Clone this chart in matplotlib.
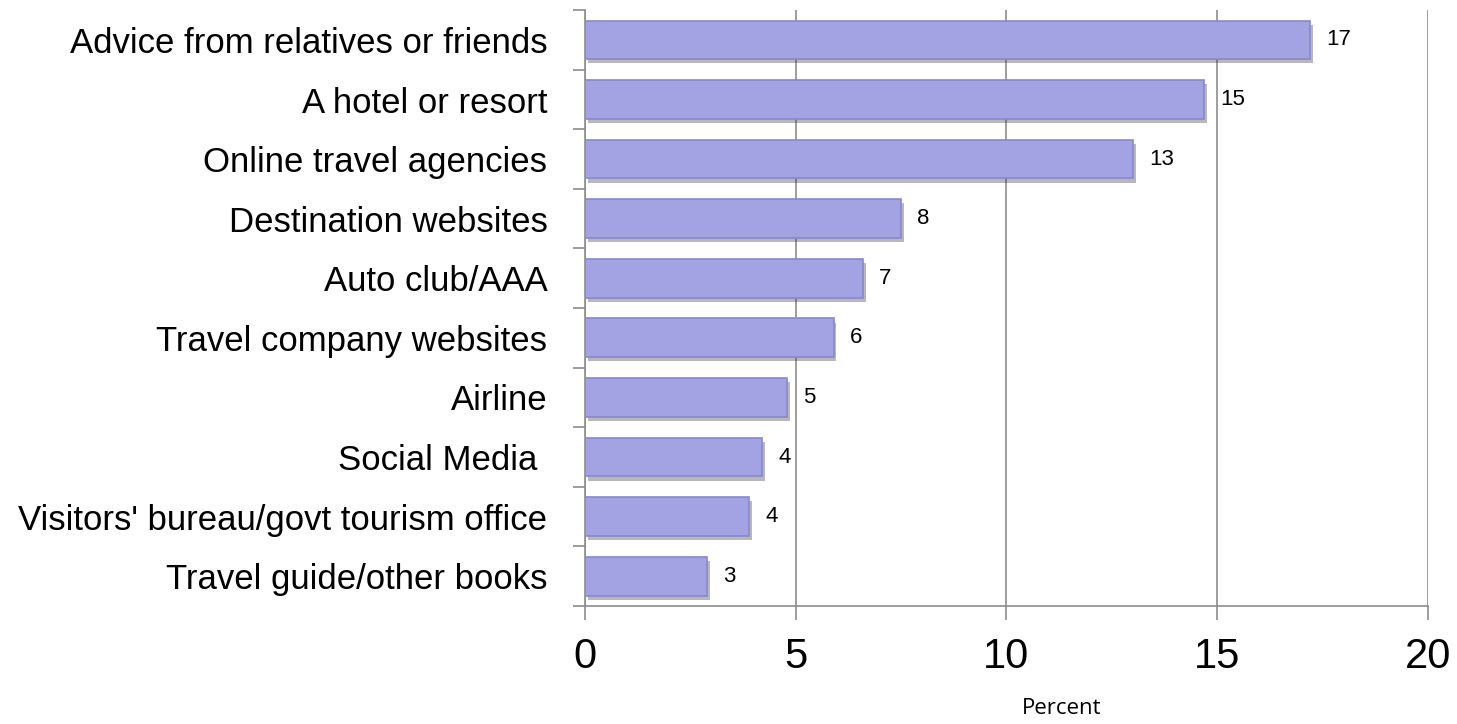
import matplotlib.pyplot as plt
import matplotlib.patheffects as pe
import numpy as np

# Data (bar lengths + printed integer labels)
categories = [
    'Advice from relatives or friends',
    'A hotel or resort',
    'Online travel agencies',
    'Destination websites',
    'Auto club/AAA',
    'Travel company websites',
    'Airline',
    'Social Media ',
    "Visitors' bureau/govt tourism office",
    'Travel guide/other books',
]
values = [17.2, 14.7, 13.0, 7.5, 6.6, 5.9, 4.8, 4.2, 3.9, 2.9]
value_labels = ['17', '15', '13', '8', '7', '6', '5', '4', '4', '3']
x_ticks = [0, 5, 10, 15, 20]

plt.rcParams['font.family'] = ['Liberation Sans', 'DejaVu Sans']

fig = plt.figure(figsize=(14.57, 7.24), dpi=100)
ax = fig.add_axes([0.4015, 0.163, 0.5785, 0.823])

grey = '#8c8c8c'
y = np.arange(len(categories))
bars = ax.barh(y, values, height=0.65, color='#a3a3e3', edgecolor='#8888cc',
               linewidth=1.2, zorder=3)
for b in bars:
    b.set_path_effects([pe.SimplePatchShadow(offset=(2, -3), alpha=0.35),
                        pe.Normal()])

for yi, v, lab in zip(y, values, value_labels):
    ax.text(v + 0.38, yi, lab, va='center', ha='left', fontsize=16, zorder=4)

ax.set_xlim(0, 20)
ax.set_ylim(len(categories) - 0.5, -0.5)

# x axis
ax.set_xticks(x_ticks)
ax.set_xticklabels([str(t) for t in x_ticks], fontsize=30)
ax.tick_params(axis='x', direction='out', length=10, width=1.2, color=grey, pad=12)
ax.xaxis.grid(True, color=grey, linewidth=1.2, zorder=0)
ax.set_xlabel('Percent', fontsize=16, family=['Open Sans', 'DejaVu Sans'])
ax.xaxis.set_label_coords(0.566, -0.155)

# y axis: ticks at category boundaries, labels at centres
ax.set_yticks(np.arange(len(categories) + 1) - 0.5)
ax.set_yticklabels([])
ax.tick_params(axis='y', which='major', direction='out', length=9, width=1.2, color=grey)
ax.set_yticks(y, minor=True)
ax.set_yticklabels(categories, minor=True, fontsize=25)
ax.tick_params(axis='y', which='minor', length=0, pad=27)

for s in ['top', 'right']:
    ax.spines[s].set_visible(False)
for s in ['left', 'bottom']:
    ax.spines[s].set_color(grey)
    ax.spines[s].set_linewidth(1.2)

fig.savefig('out.png', dpi=100)
